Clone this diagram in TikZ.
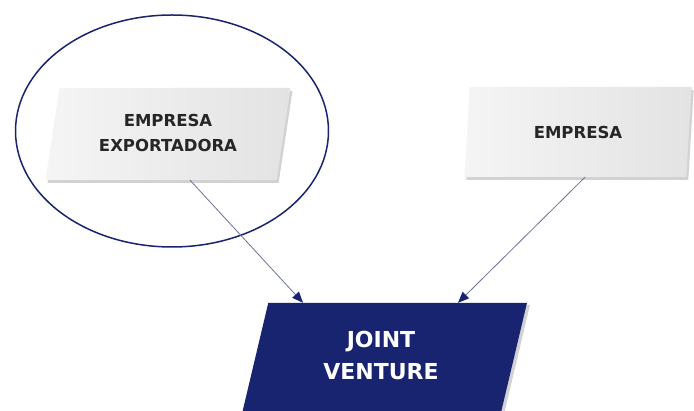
\documentclass[tikz,border=0pt]{standalone}
\usepackage{fontspec}
\setmainfont{DejaVu Sans}
\usetikzlibrary{shapes.geometric,arrows.meta,shadows}
\definecolor{navy}{RGB}{24,36,112}
\definecolor{wire}{RGB}{108,114,150}

\begin{document}
\begin{tikzpicture}[x=1pt,y=-1pt,
    firm/.style={trapezium, trapezium left angle=80, trapezium right angle=100,
      trapezium stretches=true, left color=gray!8, right color=gray!22,
      drop shadow={shadow xshift=2pt, shadow yshift=-3pt, fill=gray!70},
      font=\bfseries\fontsize{16.5}{25}\selectfont, text=black!85,
      align=center, inner sep=0pt},
    venture/.style={trapezium, trapezium left angle=80, trapezium right angle=100,
      trapezium stretches=true, fill=navy,
      drop shadow={shadow xshift=3pt, shadow yshift=-2pt, fill=gray!70},
      font=\bfseries\fontsize{22}{32}\selectfont, text=white,
      align=center, inner sep=0pt},
    link/.style={draw=wire, line width=0.8pt,
      -{Triangle[length=11pt,width=9pt,color=navy]}}]
    \useasboundingbox (0,0) rectangle (694,411);
    \clip (0,0) rectangle (694,411);
    % boxes
    \node[firm, minimum width=245, minimum height=92] (exp) at (168,134)
      {\raisebox{6pt}{\begin{tabular}{@{}c@{}}EMPRESA\\EXPORTADORA\end{tabular}}};
    \node[firm, minimum width=229, minimum height=90] (emp) at (578,132)
      {EMPRESA};
    \node[venture, minimum width=292, minimum height=140] (jv) at (381,373)
      {\raisebox{59pt}{\begin{tabular}{@{}c@{}}JOINT\\VENTURE\end{tabular}}};
    % highlight
    \node[ellipse, draw=navy, line width=1.5pt, minimum width=313,
      minimum height=232] (ring) at (172,131) {};
    % arrows
    \draw[link] ([xshift=22pt]exp.south) -- ([xshift=-78pt]jv.north);
    \draw[link] ([xshift=7pt]emp.south) -- ([xshift=77pt]jv.north);
\end{tikzpicture}
\end{document}
